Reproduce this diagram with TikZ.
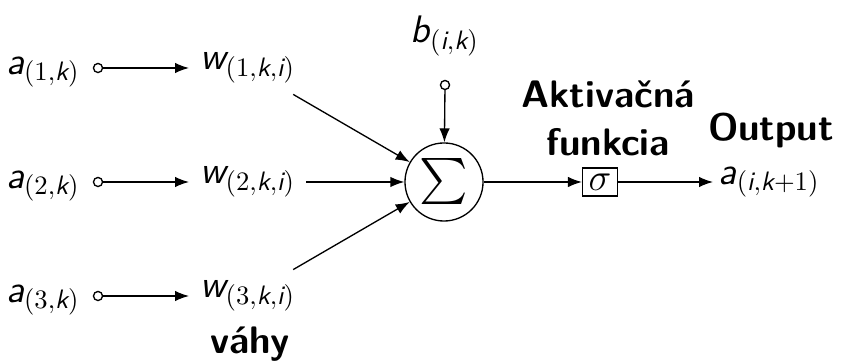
\documentclass[tikz,border=0pt]{standalone}
\usepackage{amsmath}
\usepackage{fontspec}
\usepackage{tikz}
\usetikzlibrary{arrows.meta, positioning}
\newcommand{\sv}[1]{\textsf{\itshape #1}}
\tikzset{
  lbl/.style={font=\Large, inner sep=2pt},
  inpt/.style={circle, draw, minimum size=1.2mm, inner sep=0pt, line width=0.5pt},
  sumnode/.style={circle, draw, minimum size=1.03cm, inner sep=0pt, line width=0.5pt},
  actbox/.style={rectangle, draw, minimum width=0.46cm, minimum height=0.37cm,
    inner sep=1pt, font=\Large, line width=0.5pt},
  heading/.style={font=\Large\sffamily\bfseries, align=center, inner sep=1pt},
  arrow/.style={-Latex, line width=0.5pt},
  line/.style={line width=0.5pt}
}

\begin{document}
\begin{tikzpicture}[x=0.0132cm, y=-0.0132cm]
  \useasboundingbox (0,0) rectangle (841,364);

  % Inputs
  \node[lbl] (a1) at (43,72) {$\sv{a}_{(1,\sv{k})}$};
  \node[lbl] (a2) at (43,186) {$\sv{a}_{(2,\sv{k})}$};
  \node[lbl] (a3) at (43,300) {$\sv{a}_{(3,\sv{k})}$};
  \node[inpt] (i1) at (98,68) {};
  \node[inpt] (i2) at (98,182) {};
  \node[inpt] (i3) at (98,296) {};

  % Weights
  \node[lbl, anchor=west, inner sep=4pt] (w1) at (189,68) {$\sv{w}_{(1,\sv{k},\sv{i})}$};
  \node[lbl, anchor=west, inner sep=4pt] (w2) at (189,182) {$\sv{w}_{(2,\sv{k},\sv{i})}$};
  \node[lbl, anchor=west, inner sep=4pt] (w3) at (189,296) {$\sv{w}_{(3,\sv{k},\sv{i})}$};
  \node[heading] (vahy) at (250,344) {váhy};

  % Bias and sum
  \node[lbl] (b) at (445,36) {$\sv{b}_{(\sv{i},\sv{k})}$};
  \node[inpt] (bi) at (445,85) {};
  \node[sumnode, font=\LARGE] (sum) at (444,182) {$\sum$};

  % Activation and output
  \node[actbox] (act) at (600,182) {$\sigma$};
  \node[heading] (acttxt) at (608,118) {Aktivačná\\funkcia};
  \node[heading] (outtxt) at (771,130) {Output};
  \node[lbl, anchor=west] (out) at (713,182) {$\sv{a}_{(\sv{i},\sv{k}+1)}$};

  % Connections
  \draw[arrow] (i1) -- (w1);
  \draw[arrow] (i2) -- (w2);
  \draw[arrow] (i3) -- (w3);
  \draw[arrow] (w1) -- (sum);
  \draw[arrow] (w2) -- (sum);
  \draw[arrow] (w3) -- (sum);
  \draw[arrow] (bi) -- (sum);
  \draw[arrow] (sum) -- (act);
  \draw[arrow] (act) -- (out);
\end{tikzpicture}
\end{document}
